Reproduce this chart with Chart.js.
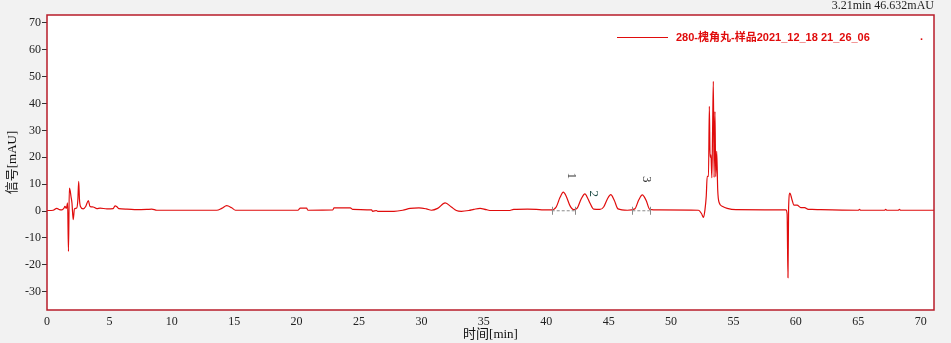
<!DOCTYPE html>
<html>
<head>
<meta charset="utf-8">
<script src="https://cdn.jsdelivr.net/npm/chart.js@4.4.1/dist/chart.umd.min.js"></script>
<style>
  html, body { margin:0; padding:0; background:#f2f2f2; }
  #wrap { width:951px; height:343px; }
</style>
</head>
<body>
<div id="wrap"><canvas id="chromChart" width="951" height="343"></canvas></div>
<script>
// chromatogram
const timeMin = [0, 0.5, 0.78, 1.0, 1.2, 1.35, 1.44, 1.55, 1.65, 1.72, 1.79, 1.86, 1.92, 2.0, 2.1, 2.2, 2.38, 2.47, 2.54, 2.6, 2.68, 2.9, 3.1, 3.31, 3.45, 3.7, 4.0, 4.25, 4.8, 5.3, 5.45, 5.6, 5.75, 6.4, 7.2, 8.0, 8.4, 8.8, 12.3, 13.6, 14.0, 14.4, 14.8, 15.1, 20.1, 20.3, 20.8, 20.9, 22.9, 23.0, 24.3, 24.5, 26.0, 26.1, 26.4, 26.5, 27.8, 28.5, 29.1, 29.8, 30.4, 30.8, 31.3, 31.9, 32.4, 32.8, 33.2, 33.8, 34.2, 34.7, 35.2, 35.6, 37.0, 37.4, 38.5, 39.2, 39.8, 40.4, 40.8, 41.1, 41.37, 41.6, 41.9, 42.2, 42.5, 42.8, 43.1, 43.35, 43.5, 43.8, 44.3, 44.6, 44.9, 45.17, 45.45, 45.75, 46.5, 47.1, 47.4, 47.7, 48.0, 48.3, 49.0, 52.2, 52.45, 52.6, 52.72, 52.82, 52.9, 53.0, 53.07, 53.13, 53.2, 53.27, 53.33, 53.39, 53.45, 53.52, 53.58, 53.66, 53.74, 53.87, 54.1, 54.5, 55.2, 59.2, 59.3, 59.37, 59.42, 59.53, 59.62, 59.7, 59.85, 60.1, 60.4, 60.7, 61.0, 61.3, 62.0, 65.0, 65.1, 65.2, 67.1, 67.2, 67.3, 68.2, 68.3, 68.4, 71.07];
const signalMAU = [0.2, 0.3, 1.0, 0.5, 0.4, 1.0, 1.7, 1.0, 3.0, -15.0, 8.5, 7.5, 5.5, 3.0, -3.2, 0.8, 1.1, 4.0, 11.0, 4.5, 1.7, 0.8, 1.7, 3.9, 1.7, 1.5, 0.9, 1.1, 0.8, 0.9, 1.9, 1.6, 0.9, 0.7, 0.5, 0.6, 0.7, 0.3, 0.3, 0.3, 1.0, 2.0, 1.2, 0.3, 0.3, 1.1, 1.1, 0.3, 0.4, 1.2, 1.2, 0.6, 0.4, -0.1, 0.2, -0.1, -0.1, 0.3, 1.0, 1.2, 0.8, 0.3, 1.0, 3.0, 1.5, 0.2, -0.1, 0.2, 0.6, 1.0, 0.5, 0.2, 0.2, 0.6, 0.7, 0.6, 0.4, 0.4, 1.5, 5.0, 7.0, 5.5, 2.0, 0.5, 1.2, 4.5, 6.4, 4.5, 3.0, 0.7, 0.6, 1.5, 4.5, 6.1, 4.0, 0.8, 0.3, 0.8, 4.0, 6.0, 4.0, 0.6, 0.4, 0.3, -1.0, -2.4, 0.5, 5.4, 12.9, 12.9, 38.9, 20.0, 20.9, 12.4, 30.0, 48.2, 12.5, 37.0, 12.8, 22.2, 7.9, 3.0, 1.8, 1.0, 0.5, 0.4, -1.0, -24.8, 1.0, 6.7, 5.5, 4.1, 2.2, 2.2, 1.3, 1.3, 0.6, 0.6, 0.5, 0.3, 0.6, 0.3, 0.3, 0.6, 0.3, 0.3, 0.6, 0.3, 0.3];

// integration baselines under the marked peaks [start, end, level]
const baseStart = [40.44, 46.9];
const baseEnd = [42.3, 48.3];
const baseLevel = [0.1, 0.1];

// peak numbers
const peakNames = ['1', '2', '3'];
const peakTime = [42.05, 43.75, 48.05];
const peakHeight = [13.1, 6.4, 11.8];

const xMin = 0, xMax = 71.07;
const yMin = -36.8, yMax = 72.9;
const seriesName = '280-槐角丸-样品2021_12_18 21_26_06';
const cursorText = '3.21min 46.632mAU';

const RED = '#e00c0c';
const serif = "'Liberation Serif', 'Noto Sans CJK SC', serif";

const points = timeMin.map((t, i) => ({ x: t, y: signalMAU[i] }));

const baseSets = baseStart.map((s, i) => ({
  data: [{ x: s, y: baseLevel[i] }, { x: baseEnd[i], y: baseLevel[i] }],
  showLine: true,
  borderColor: '#8a8a8a',
  borderWidth: 1,
  borderDash: [3, 2],
  pointRadius: 0
}));

// backgrounds, frame, legend, peak labels
const decor = {
  id: 'decor',
  beforeDraw(chart) {
    const { ctx, chartArea: a } = chart;
    ctx.save();
    ctx.fillStyle = '#f2f2f2';
    ctx.fillRect(0, 0, chart.width, chart.height);
    ctx.fillStyle = '#fff';
    ctx.fillRect(a.left, a.top, a.right - a.left, a.bottom - a.top);
    ctx.restore();
  },
  afterDatasetsDraw(chart) {
    const { ctx, chartArea: a, scales: { x, y } } = chart;
    ctx.save();
    // baseline end ticks
    ctx.strokeStyle = '#8a8a8a';
    ctx.lineWidth = 1;
    baseStart.forEach((s, i) => {
      [s, baseEnd[i]].forEach(t => {
        const px = Math.round(x.getPixelForValue(t)) + 0.5;
        const py = y.getPixelForValue(baseLevel[i]);
        ctx.beginPath();
        ctx.moveTo(px, py - 4);
        ctx.lineTo(px, py + 4);
        ctx.stroke();
      });
    });
    // peak numbers, turned sideways
    ctx.font = '13px ' + serif;
    ctx.textAlign = 'center';
    ctx.textBaseline = 'middle';
    peakNames.forEach((n, i) => {
      ctx.save();
      ctx.translate(x.getPixelForValue(peakTime[i]), y.getPixelForValue(peakHeight[i]));
      ctx.rotate(Math.PI / 2);
      ctx.fillStyle = i === 1 ? '#1f4d46' : '#333';
      ctx.fillText(n, 0, 0);
      ctx.restore();
    });
    // frame
    ctx.strokeStyle = '#b81c2a';
    ctx.lineWidth = 1.5;
    ctx.strokeRect(a.left, a.top, a.right - a.left, a.bottom - a.top);
    // legend
    ctx.strokeStyle = RED;
    ctx.lineWidth = 1;
    ctx.beginPath();
    ctx.moveTo(617, 37.5);
    ctx.lineTo(668, 37.5);
    ctx.stroke();
    ctx.fillStyle = RED;
    ctx.font = "bold 11px 'Liberation Sans', 'Noto Sans CJK SC', sans-serif";
    ctx.textAlign = 'left';
    ctx.fillText(seriesName, 676, 38);
    ctx.fillText('.', 920, 37);
    // cursor readout
    ctx.fillStyle = '#222';
    ctx.font = '12px ' + serif;
    ctx.textAlign = 'right';
    ctx.fillText(cursorText, 934, 6);
    ctx.restore();
  }
};

new Chart(document.getElementById('chromChart').getContext('2d'), {
  type: 'scatter',
  data: {
    datasets: [{
      data: points,
      showLine: true,
      borderColor: RED,
      borderWidth: 1.2,
      pointRadius: 0,
      cubicInterpolationMode: 'monotone'
    }, ...baseSets]
  },
  options: {
    responsive: false,
    animation: false,
    layout: { padding: { top: 15, right: 17, left: 0, bottom: 0 } },
    plugins: { legend: { display: false }, tooltip: { enabled: false } },
    scales: {
      x: {
        type: 'linear', min: xMin, max: xMax,
        afterFit: s => { s.height = 33; },
        border: { display: false },
        grid: { display: false, drawTicks: false },
        ticks: { stepSize: 5, includeBounds: false, maxRotation: 0, padding: 5, color: '#222', font: { family: serif, size: 12 } },
        title: { display: true, text: '时间[min]', color: '#111', padding: { top: 0, bottom: 1 }, font: { family: serif, size: 13 } }
      },
      y: {
        min: yMin, max: yMax,
        afterFit: s => { s.width = 47; },
        border: { display: false },
        grid: { drawOnChartArea: false, drawTicks: true, tickLength: 5, color: '#333' },
        ticks: { stepSize: 10, includeBounds: false, padding: 1, color: '#222', font: { family: serif, size: 12 } },
        title: { display: true, text: '信号[mAU]', color: '#111', padding: { top: 5, bottom: 0 }, font: { family: serif, size: 13 } }
      }
    }
  },
  plugins: [decor]
});
</script>
</body>
</html>
